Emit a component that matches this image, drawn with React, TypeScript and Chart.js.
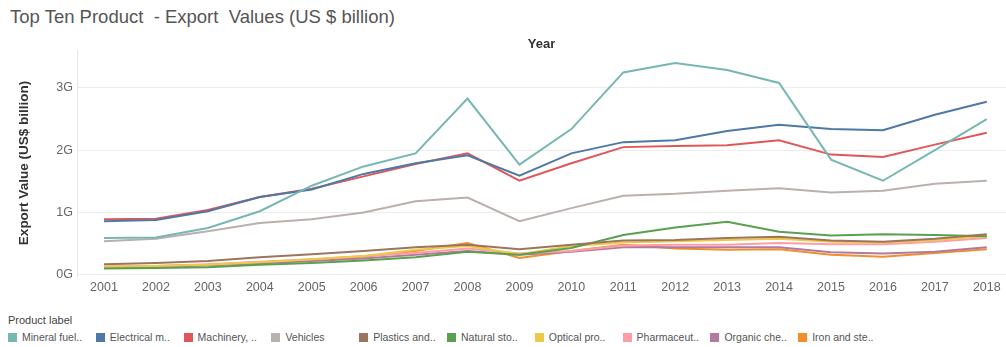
import React, { useEffect, useRef } from 'react';
import { Chart, registerables } from 'chart.js';

Chart.register(...registerables);

const years = [2001, 2002, 2003, 2004, 2005, 2006, 2007, 2008, 2009, 2010, 2011, 2012, 2013, 2014, 2015, 2016, 2017, 2018];
const yTickValues = [0, 1, 2, 3];

const mineralFuels = [0.59, 0.60, 0.75, 1.02, 1.43, 1.74, 1.95, 2.83, 1.77, 2.34, 3.25, 3.40, 3.29, 3.08, 1.85, 1.51, 2.00, 2.50];
const electrical = [0.86, 0.88, 1.02, 1.25, 1.37, 1.62, 1.79, 1.92, 1.59, 1.95, 2.13, 2.16, 2.31, 2.41, 2.34, 2.32, 2.57, 2.78];
const machinery = [0.89, 0.90, 1.04, 1.25, 1.38, 1.58, 1.78, 1.95, 1.51, 1.79, 2.05, 2.07, 2.08, 2.16, 1.93, 1.89, 2.09, 2.28];
const vehicles = [0.54, 0.58, 0.70, 0.83, 0.89, 1.00, 1.18, 1.24, 0.86, 1.07, 1.27, 1.30, 1.35, 1.39, 1.32, 1.35, 1.46, 1.51];
const plastics = [0.17, 0.19, 0.22, 0.28, 0.33, 0.38, 0.44, 0.48, 0.41, 0.48, 0.55, 0.56, 0.59, 0.61, 0.55, 0.53, 0.58, 0.65];
const naturalStones = [0.10, 0.11, 0.12, 0.16, 0.19, 0.23, 0.28, 0.37, 0.32, 0.43, 0.64, 0.76, 0.85, 0.69, 0.63, 0.65, 0.64, 0.62];
const optical = [0.13, 0.14, 0.16, 0.20, 0.25, 0.30, 0.40, 0.46, 0.33, 0.46, 0.52, 0.54, 0.56, 0.58, 0.53, 0.52, 0.56, 0.62];
const pharmaceutical = [0.13, 0.14, 0.17, 0.21, 0.25, 0.30, 0.35, 0.42, 0.34, 0.38, 0.47, 0.48, 0.48, 0.51, 0.49, 0.49, 0.53, 0.59];
const organicChemicals = [0.12, 0.13, 0.15, 0.18, 0.22, 0.26, 0.32, 0.38, 0.32, 0.37, 0.44, 0.44, 0.44, 0.44, 0.36, 0.34, 0.37, 0.44];
const ironSteel = [0.13, 0.14, 0.16, 0.20, 0.24, 0.29, 0.38, 0.51, 0.27, 0.38, 0.48, 0.42, 0.40, 0.41, 0.32, 0.29, 0.35, 0.41];

const seriesLabels = ['Mineral fuel..', 'Electrical m..', 'Machinery, ..', 'Vehicles', 'Plastics and..', 'Natural sto..', 'Optical pro..', 'Pharmaceut..', 'Organic che..', 'Iron and ste..'];
const seriesValues = [mineralFuels, electrical, machinery, vehicles, plastics, naturalStones, optical, pharmaceutical, organicChemicals, ironSteel];
const seriesColors = ['#76b7b2', '#4e79a7', '#e15759', '#bab0ac', '#9c755f', '#59a14f', '#edc948', '#ff9da7', '#b07aa1', '#f28e2b'];

const FONT = "'Liberation Sans', Arial, sans-serif";

export default function App() {
  const canvasRef = useRef<HTMLCanvasElement | null>(null);

  useEffect(() => {
    document.body.style.margin = '0';
    document.body.style.overflow = 'hidden';
    const canvas = canvasRef.current;
    if (!canvas) return;
    const chart = new Chart(canvas, {
      type: 'line',
      data: {
        datasets: seriesLabels.map((label, i) => ({
          label,
          xAxisID: 'x',
          yAxisID: 'y',
          data: years.map((yr, j) => ({ x: yr, y: seriesValues[i][j] })),
          borderColor: seriesColors[i],
          backgroundColor: seriesColors[i],
          borderWidth: 2,
          pointRadius: 0,
          tension: 0,
          fill: false,
        })),
      },
      options: {
        animation: false,
        responsive: false,
        maintainAspectRatio: false,
        layout: { padding: { top: 30, left: 0, right: 0, bottom: 0 } },
        plugins: {
          legend: { display: false },
          title: { display: false },
          tooltip: { enabled: false },
        },
        scales: {
          x: {
            type: 'linear',
            position: 'bottom',
            min: 2000.48,
            max: 2018.37,
            afterBuildTicks: (axis: any) => { axis.ticks = years.map((v) => ({ value: v })); },
            ticks: {
              autoSkip: false,
              maxRotation: 0,
              padding: 4,
              color: '#666',
              font: { family: FONT, size: 12.5 },
              callback: (v: any) => String(v),
            },
            grid: { display: false, drawTicks: false },
            border: { display: false },
            afterFit: (s: any) => { s.height = 24; },
          },
          xTop: {
            type: 'linear',
            position: 'top',
            min: 0,
            max: 1,
            ticks: { display: false },
            grid: { display: false, drawTicks: false },
            border: { display: false },
            title: {
              display: true,
              text: 'Year',
              color: '#333',
              font: { family: FONT, size: 13, weight: 'bold' },
              padding: { top: 7, bottom: 0 },
            },
            afterFit: (s: any) => { s.height = 20; },
          },
          y: {
            type: 'linear',
            position: 'left',
            min: -0.02,
            max: 3.61,
            afterBuildTicks: (axis: any) => { axis.ticks = yTickValues.map((v) => ({ value: v })); },
            ticks: {
              padding: 4,
              color: '#666',
              font: { family: FONT, size: 12.5 },
              callback: (v: any) => v + 'G',
            },
            grid: { color: '#ececec', drawTicks: false, lineWidth: 1 },
            border: { display: true, color: '#e6e6e6' },
            title: {
              display: true,
              text: 'Export Value (US$ billion)',
              color: '#333',
              font: { family: FONT, size: 13.5, weight: 'bold' },
              padding: { top: 16, bottom: 0 },
            },
            afterFit: (s: any) => { s.width = 77; },
          },
        },
      } as any,
    });
    return () => chart.destroy();
  }, []);

  return (
    <div style={{ position: 'relative', width: 1006, height: 347, background: '#fff', fontFamily: FONT }}>
      <div
        style={{
          position: 'absolute',
          left: 10,
          top: 6,
          fontSize: 18.5,
          color: '#555',
          whiteSpace: 'pre',
          lineHeight: '22px',
        }}
      >
        {'Top Ten Product  - Export  Values (US $ billion)'}
      </div>
      <canvas ref={canvasRef} width={1006} height={300} style={{ position: 'absolute', left: 0, top: 0, display: 'block' }} />
      <div style={{ position: 'absolute', left: 8, top: 313, fontSize: 11, color: '#444', lineHeight: '14px' }}>Product label</div>
      <div style={{ position: 'absolute', left: 8, top: 330, height: 14, display: 'flex' }}>
        {seriesLabels.map((label, i) => (
          <div key={label} style={{ width: 87.8, display: 'flex', alignItems: 'center', fontSize: 10.5, color: '#555', lineHeight: '14px', whiteSpace: 'nowrap' }}>
            <span style={{ display: 'inline-block', width: 9, height: 9, background: seriesColors[i], marginRight: 5 }} />
            <span>{label}</span>
          </div>
        ))}
      </div>
    </div>
  );
}
